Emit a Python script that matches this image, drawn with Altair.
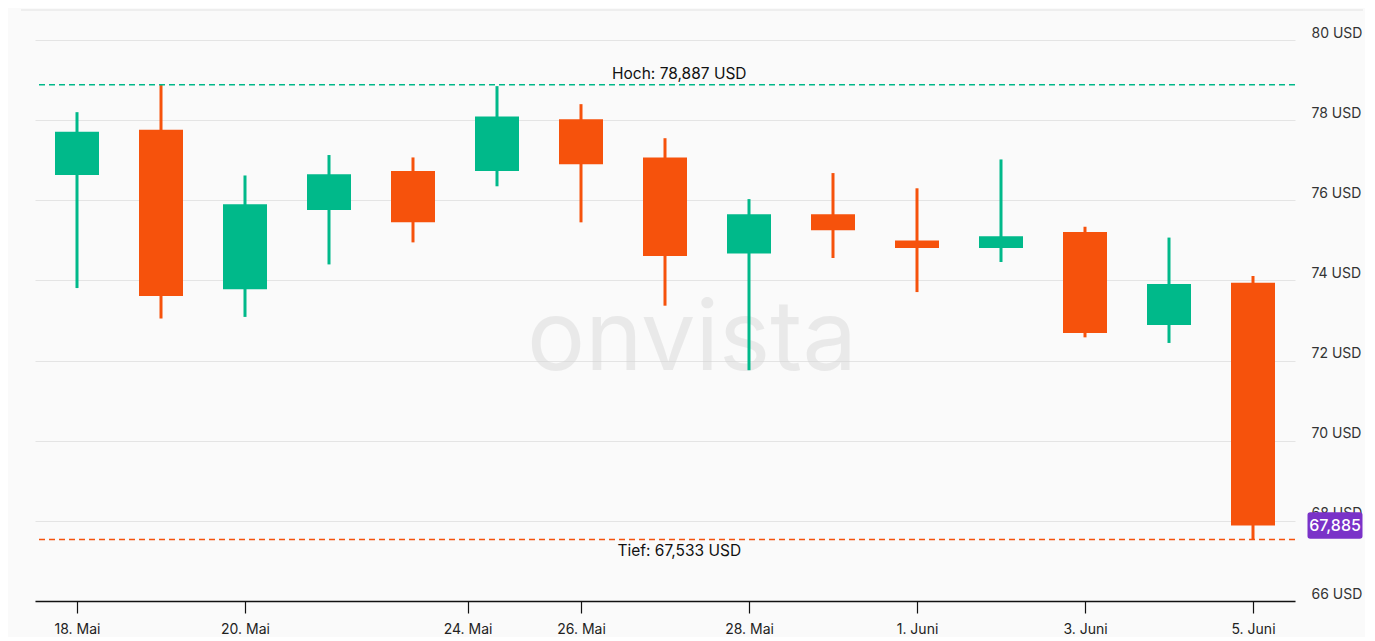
import altair as alt
import pandas as pd

# ---- data ----
idx = list(range(15))
opens = [76.63, 77.76, 73.78, 75.76, 76.73, 76.73, 78.02, 77.07, 74.67, 75.65, 75.00, 74.81, 75.21, 72.89, 73.94]
closes = [77.71, 73.61, 75.90, 76.65, 75.45, 78.09, 76.90, 74.61, 75.65, 75.25, 74.81, 75.10, 72.69, 73.91, 67.885]
highs = [78.20, 78.887, 76.62, 77.13, 77.07, 78.85, 78.40, 77.55, 76.03, 76.68, 76.30, 77.02, 75.34, 75.07, 74.11]
lows = [73.81, 73.05, 73.09, 74.40, 74.95, 76.35, 75.45, 73.37, 71.76, 74.56, 73.71, 74.46, 72.58, 72.44, 67.533]

tick_pos = [0, 2, 4.65, 6, 8, 10, 12, 14]
tick_labels = ["18. Mai", "20. Mai", "24. Mai", "26. Mai", "28. Mai", "1. Juni", "3. Juni", "5. Juni"]
y_ticks = [66, 68, 70, 72, 74, 76, 78, 80]

hoch = 78.887
tief = 67.533
last_price = 67.885
hoch_label = "Hoch: 78,887 USD"
tief_label = "Tief: 67,533 USD"
price_label = "67,885"

GREEN = "#00b98a"
RED = "#f6520c"
PURPLE = "#7a32c8"
FONT = "Inter"

df = pd.DataFrame({"i": idx, "open": opens, "close": closes, "high": highs, "low": lows})
df["dir"] = ["up" if c >= o else "down" for o, c in zip(opens, closes)]

label_expr = " : ".join(
    [f"datum.value == {p} ? '{l}'" for p, l in zip(tick_pos, tick_labels)]
) + " : ''"

xscale = alt.Scale(domain=[-0.5, 14.5], nice=False, zero=False, padding=0)
yscale = alt.Scale(domain=[66, 80.5], nice=False, zero=False, padding=0)
color = alt.Color("dir:N", scale=alt.Scale(domain=["up", "down"], range=[GREEN, RED]), legend=None)

base = alt.Chart(df)

x_enc = alt.X(
    "i:Q", scale=xscale, title=None,
    axis=alt.Axis(values=tick_pos, labelExpr=label_expr, grid=False, domainColor="#111",
                  domainWidth=1.5, tickColor="#111", tickSize=12, tickWidth=1.2,
                  labelFont=FONT, labelFontSize=14, labelColor="#222", labelPadding=9),
)
y_axis = alt.Axis(orient="right", values=y_ticks, labelExpr="datum.value + ' USD'",
                  grid=True, gridColor="#e4e4e4", gridWidth=1, domain=False, ticks=False,
                  labelFont=FONT, labelFontSize=14, labelColor="#333", labelPadding=16,
                  labelAlign="left", labelBaseline="alphabetic", labelOffset=-3)

watermark = alt.Chart(pd.DataFrame({"t": ["onvista"]})).mark_text(
    font=FONT, fontSize=97, color="#d6d6d6", opacity=0.45, align="center", baseline="alphabetic"
).encode(text="t:N", x=alt.value(657), y=alt.value(350))

wicks = base.mark_rule(strokeWidth=3).encode(
    x=x_enc, y=alt.Y("low:Q", scale=yscale, title=None, axis=y_axis), y2="high:Q", color=color
)
bodies = base.mark_bar(size=44).encode(
    x="i:Q", y="open:Q", y2="close:Q", color=color
)

hoch_rule = alt.Chart(pd.DataFrame({"v": [hoch]})).mark_rule(
    color=GREEN, strokeDash=[6, 4], strokeWidth=1.5
).encode(y="v:Q")
tief_rule = alt.Chart(pd.DataFrame({"v": [tief]})).mark_rule(
    color=RED, strokeDash=[6, 4], strokeWidth=1.5
).encode(y="v:Q")

hoch_text = alt.Chart(pd.DataFrame({"v": [hoch], "t": [hoch_label], "x": [7.17]})).mark_text(
    font=FONT, fontSize=15.5, color="#111", baseline="bottom", dy=-3
).encode(x="x:Q", y="v:Q", text="t:N")
tief_text = alt.Chart(pd.DataFrame({"v": [tief], "t": [tief_label], "x": [7.17]})).mark_text(
    font=FONT, fontSize=15.5, color="#111", baseline="top", dy=4
).encode(x="x:Q", y="v:Q", text="t:N")

badge_path = ("M-0.9,-0.48 L0.9,-0.48 Q1,-0.48 1,-0.38 L1,0.38 Q1,0.48 0.9,0.48 "
              "L-0.9,0.48 Q-1,0.48 -1,0.38 L-1,-0.38 Q-1,-0.48 -0.9,-0.48 Z")
price_df = pd.DataFrame({"v": [last_price], "t": [price_label]})
badge = alt.Chart(price_df).mark_point(
    shape=badge_path, size=55 * 55, filled=True, color=PURPLE, opacity=1, clip=False
).encode(x=alt.value(1300), y="v:Q")
badge_text = alt.Chart(price_df).mark_text(
    font=FONT, fontSize=16, fontWeight=500, color="white", align="center", baseline="middle", dy=1, clip=False
).encode(x=alt.value(1300), y="v:Q", text="t:N")

top_border = alt.Chart(pd.DataFrame({"a": [0]})).mark_rule(color="#e2e2e2", strokeWidth=1, clip=False).encode(
    x=alt.value(-14), x2=alt.value(1328), y=alt.value(-10)
)

chart = alt.layer(
    watermark, wicks, bodies, hoch_rule, tief_rule, hoch_text, tief_text, badge, badge_text, top_border
).properties(
    width=1260, height=581, background="#fafafa",
    autosize=alt.AutoSizeParams(type="none"),
    padding={"left": 27, "top": 12, "right": 70, "bottom": 36},
).configure_view(stroke=None)

chart.save("out.html", embed_options={"renderer": "svg", "actions": False})
